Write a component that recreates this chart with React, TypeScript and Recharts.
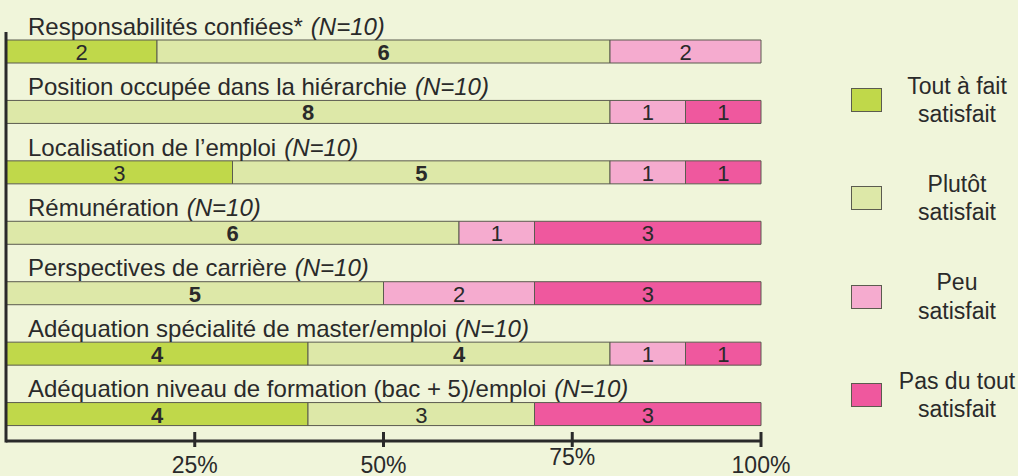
import React from "react";
import { BarChart, Bar, XAxis, YAxis, Legend, LabelList } from "recharts";

const categories = [
  "Responsabilités confiées*",
  "Position occupée dans la hiérarchie",
  "Localisation de l’emploi",
  "Rémunération",
  "Perspectives de carrière",
  "Adéquation spécialité de master/emploi",
  "Adéquation niveau de formation (bac + 5)/emploi",
];
const sampleSizes = [10, 10, 10, 10, 10, 10, 10];
const toutAFait = [2, 0, 3, 0, 0, 4, 4];
const plutot = [6, 8, 5, 6, 5, 4, 3];
const peu = [2, 1, 1, 1, 2, 1, 0];
const pasDuTout = [0, 1, 1, 3, 3, 1, 3];
const xTicks = [0.25, 0.5, 0.75, 1];
const xTickLabels = ["25%", "50%", "75%", "100%"];

const seriesKeys = ["toutAFait", "plutot", "peu", "pasDuTout"];
const seriesNames = ["Tout à fait|satisfait", "Plutôt|satisfait", "Peu|satisfait", "Pas du tout|satisfait"];
const seriesColors = ["#c0d84a", "#dde8a8", "#f5abcf", "#ef589e"];

const data = categories.map((name, i) => ({
  name,
  n: sampleSizes[i],
  toutAFait: toutAFait[i],
  plutot: plutot[i],
  peu: peu[i],
  pasDuTout: pasDuTout[i],
}));

const FONT = "'Liberation Sans', Arial, Helvetica, sans-serif";
const TEXT = "#2a2a2a";
const EDGE = "#5b5b4f";
const BG = "#f0f5da";

const CategoryTick = (props: any) => {
  const { x, y, payload } = props;
  const idx = categories.indexOf(payload.value);
  return (
    <text x={x + 22} y={y - 16.5} fill={TEXT} fontSize={24} fontFamily={FONT}>
      {payload.value}
      <tspan dx={8} fontStyle="italic">{`(N=${sampleSizes[idx >= 0 ? idx : 0]})`}</tspan>
    </text>
  );
};

const PercentTick = (props: any) => {
  const { x, y, payload } = props;
  const ay = y - 3;
  const raised = payload.value === 0.75;
  const ti = xTicks.indexOf(payload.value);
  return (
    <g>
      <line x1={x} x2={x} y1={ay - 9} y2={ay + 6} stroke={TEXT} strokeWidth={3} />
      <text
        x={x}
        y={ay + (raised ? 24 : 32)}
        textAnchor="middle"
        fill={TEXT}
        fontSize={23}
        fontFamily={FONT}
      >
        {ti >= 0 ? xTickLabels[ti] : `${Math.round(payload.value * 100)}%`}
      </text>
    </g>
  );
};

// label value encodes "count|bold"
const labelAccessor = (key: string) => (row: any) => {
  const v = row[key];
  const max = Math.max(...seriesKeys.map((k) => row[k]));
  return `${v}|${v === max ? 1 : 0}`;
};

const ValueLabel = (props: any) => {
  const { x, y, width, height, value } = props;
  const [v, b] = String(value).split("|");
  if (!v || v === "0") return null;
  return (
    <text
      x={x + width / 2}
      y={y + height / 2 + 8.5}
      textAnchor="middle"
      fill={TEXT}
      fontSize={22}
      fontWeight={b === "1" ? 700 : 400}
      fontFamily={FONT}
    >
      {v}
    </text>
  );
};

const LegendContent = () => {
  return (
    <div style={{ fontFamily: FONT, color: TEXT }}>
      {seriesNames.map((name, i) => {
        const [l1, l2] = name.split("|");
        return (
          <div key={i} style={{ height: 98.3, display: "flex", alignItems: "center" }}>
            <div
              style={{
                width: 31,
                height: 24,
                boxSizing: "border-box",
                border: `1px solid ${EDGE}`,
                background: seriesColors[i],
              }}
            />
            <div style={{ marginLeft: 14, width: 122, textAlign: "center", fontSize: 23, lineHeight: "28.5px" }}>
              <div>{l1}</div>
              <div>{l2}</div>
            </div>
          </div>
        );
      })}
    </div>
  );
};

export default function App() {
  return (
    <div style={{ position: "absolute", left: 0, top: 0, width: 1018, height: 476, background: BG, overflow: "hidden" }}>
      <BarChart
        width={1018}
        height={476}
        data={data}
        layout="vertical"
        stackOffset="expand"
        margin={{ top: 21, right: 257, bottom: 0, left: 5 }}
        barSize={23}
      >
        <XAxis
          type="number"
          domain={[0, 1]}
          ticks={xTicks}
          height={32}
          tickSize={0}
          tickMargin={0}
          tickLine={false}
          axisLine={{ stroke: TEXT, strokeWidth: 3, transform: "translate(0,-3)" }}
          tick={<PercentTick />}
          interval={0}
        />
        <YAxis
          type="category"
          dataKey="name"
          width={1}
          tickSize={0}
          tickMargin={0}
          tickLine={false}
          interval={0}
          axisLine={{ stroke: TEXT, strokeWidth: 3, strokeDasharray: "0 11 410.5 100" }}
          tick={<CategoryTick />}
        />
        {seriesKeys.map((k, i) => (
          <Bar
            key={k}
            dataKey={k}
            name={seriesNames[i]}
            stackId="a"
            fill={seriesColors[i]}
            stroke={EDGE}
            strokeWidth={1}
            isAnimationActive={false}
          >
            <LabelList dataKey={labelAccessor(k)} content={<ValueLabel />} />
          </Bar>
        ))}
        <Legend
          layout="horizontal"
          verticalAlign="middle"
          align="center"
          wrapperStyle={{ left: 851, top: 51, width: 167, height: 394 }}
          content={<LegendContent />}
        />
      </BarChart>
    </div>
  );
}
